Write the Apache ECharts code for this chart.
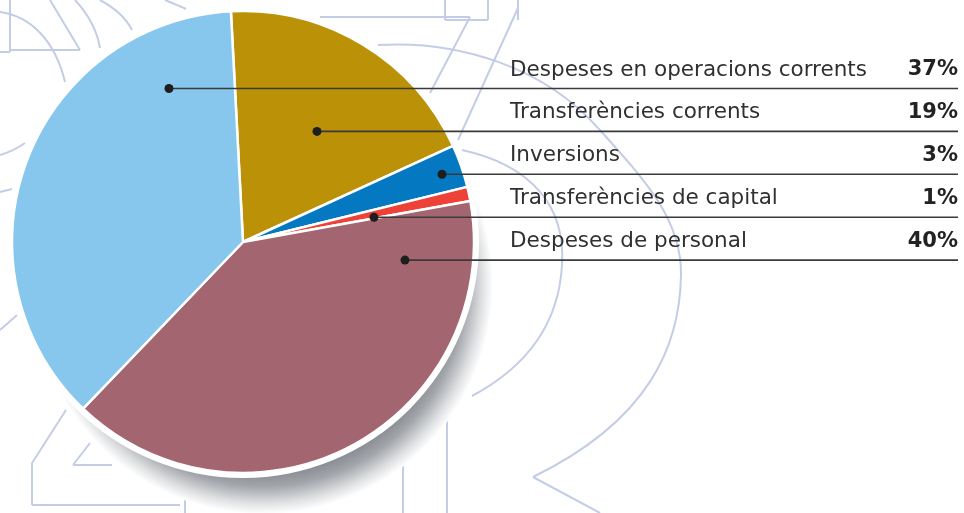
<!DOCTYPE html>
<html>
<head>
<meta charset="utf-8">
<script src="https://cdn.jsdelivr.net/npm/echarts@6/dist/echarts.min.js"></script>
<style>
	html, body { margin: 0; padding: 0; background: #fff; }
	#chart { width: 964px; height: 513px; }
</style>
</head>
<body>
<div id="chart"></div>
<script>
// slices, clockwise from the top
const categories = [
	'Transferències corrents',
	'Inversions',
	'Transferències de capital',
	'Despeses de personal',
	'Despeses en operacions corrents'
];
const shares = [19, 3, 1, 40, 37];
const sliceColors = ['#bb9107', '#0479c1', '#ee4137', '#a36671', '#87c7ee'];

// order of the rows in the list on the right, top to bottom (index into categories)
const rowOrder = [4, 0, 1, 2, 3];

// layout of the call-outs
const rowTop = 88.5;
const rowStep = 42.9;
const textLeft = 510;
const lineRight = 958;
const dotX = [317, 442, 374, 405, 169];

const pieCenter = [243, 242];
const pieRadius = 231;

const chart = echarts.init(document.getElementById('chart'));

function rowY(dataIndex) {
	return rowTop + rowOrder.indexOf(dataIndex) * rowStep;
}

// faint line art in the background (M / L / C only)
const deco = [
	'M10,0 L10,52 L0,52',
	'M10,50 L80,50 L50,0',
	'M0,12 C30,16 55,40 65,82',
	'M75,0 C88,14 97,30 100,48',
	'M100,0 C115,8 126,18 132,30',
	'M165,0 C172,3 180,6 186,9',
	'M0,155 C10,152 18,148 25,143',
	'M0,192 L12,189',
	'M0,330 L17,315',
	'M445,0 L445,20 L488,20 L488,0',
	'M518,0 L518,20',
	'M320,17 L470,17',
	'M470,17 L430,93',
	'M518,8 L458,140',
	'M378,45 C460,40 545,68 598,128 C645,180 682,220 681,275 C680,345 650,420 533,477 L600,513',
	'M462,150 C530,165 566,205 562,265 C559,320 530,365 472,396',
	'M447,400 L447,513',
	'M403,440 L403,513',
	'M66,410 L32,463 L32,505 L180,505',
	'M90,443 L73,465 L112,465',
	'M185,480 L185,513'
];

const decoStyle = { stroke: '#c3cde6', lineWidth: 2, fill: null };

function pathToEls(d) {
	const tokens = d.match(/[MLC]|-?\d+(\.\d+)?/g);
	const els = [];
	let cmd = null, x = 0, y = 0, i = 0;
	while (i < tokens.length) {
		if (/[MLC]/.test(tokens[i])) { cmd = tokens[i]; i++; }
		const n = () => +tokens[i++];
		if (cmd === 'M') {
			x = n(); y = n();
		} else if (cmd === 'L') {
			const nx = n(), ny = n();
			els.push({ type: 'line', shape: { x1: x, y1: y, x2: nx, y2: ny } });
			x = nx; y = ny;
		} else if (cmd === 'C') {
			const c1x = n(), c1y = n(), c2x = n(), c2y = n(), nx = n(), ny = n();
			els.push({
				type: 'bezierCurve',
				shape: { x1: x, y1: y, cpx1: c1x, cpy1: c1y, cpx2: c2x, cpy2: c2y, x2: nx, y2: ny }
			});
			x = nx; y = ny;
		}
	}
	return els;
}

const graphics = [];
deco.forEach(d => {
	pathToEls(d).forEach(el => {
		el.z = 0;
		el.silent = true;
		el.style = Object.assign({}, decoStyle);
		graphics.push(el);
	});
});

// call-out lines and their dots
categories.forEach((c, i) => {
	const y = rowY(i);
	graphics.push({
		type: 'line',
		z: 100,
		silent: true,
		shape: { x1: dotX[i], y1: y, x2: lineRight, y2: y },
		style: { stroke: '#3a3a3a', lineWidth: 1.6 }
	});
	graphics.push({
		type: 'circle',
		z: 101,
		silent: true,
		shape: { cx: dotX[i], cy: y, r: 4.5 },
		style: { fill: '#1e1e1e' }
	});
});

chart.setOption({
	animation: false,
	graphic: graphics,
	series: [
		{
			// soft shadow, offset down and to the right
			type: 'pie',
			z: 1,
			silent: true,
			center: [pieCenter[0] + 20, pieCenter[1] + 42],
			radius: 230,
			label: { show: false },
			labelLine: { show: false },
			itemStyle: {
				color: {
					type: 'radial', x: 0.5, y: 0.5, r: 0.5,
					colorStops: [
						{ offset: 0, color: '#6f7378' },
						{ offset: 0.8, color: '#80848a' },
						{ offset: 0.88, color: '#a2a5aa' },
						{ offset: 0.95, color: '#dcdee0' },
						{ offset: 1, color: '#ffffff' }
					]
				}
			},
			data: [{ value: 1, name: '' }]
		},
		{
			// white ring round the slices
			type: 'pie',
			z: 2,
			silent: true,
			center: pieCenter,
			radius: pieRadius + 5,
			label: { show: false },
			labelLine: { show: false },
			itemStyle: { color: '#fff' },
			data: [{ value: 1, name: '' }]
		},
		{
			type: 'pie',
			z: 3,
			silent: true,
			center: pieCenter,
			radius: pieRadius,
			startAngle: 93,
			clockwise: true,
			avoidLabelOverlap: false,
			itemStyle: { borderColor: '#fff', borderWidth: 2.5 },
			label: {
				show: true,
				position: 'outside',
				formatter: p => '{n|' + p.name + '}{v|' + p.value + '%}',
				rich: {
					n: {
						width: 398,
						fontFamily: 'DejaVu Sans',
						fontSize: 21.5,
						color: '#303030'
					},
					v: {
						width: 50,
						align: 'right',
						fontFamily: 'DejaVu Sans',
						fontSize: 21,
						fontWeight: 'bold',
						color: '#222'
					}
				}
			},
			labelLine: { show: false },
			labelLayout: params => ({
				x: textLeft,
				y: rowY(params.dataIndex) - 18.5,
				align: 'left',
				verticalAlign: 'middle'
			}),
			data: categories.map((name, i) => ({
				name: name,
				value: shares[i],
				itemStyle: { color: sliceColors[i] }
			}))
		}
	]
});
</script>
</body>
</html>
